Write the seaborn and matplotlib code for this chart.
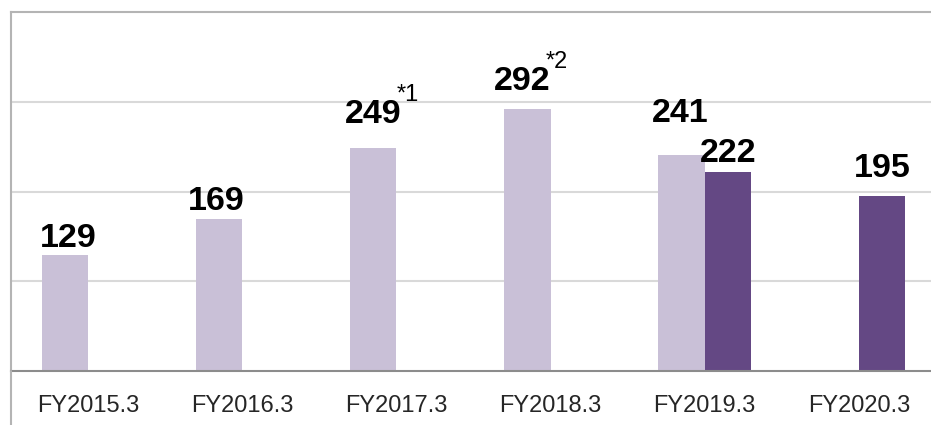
import numpy as np
import pandas as pd
import matplotlib
matplotlib.use("Agg")
import matplotlib.pyplot as plt
from matplotlib.lines import Line2D
import seaborn as sns

# datos del grafico
years = ["FY2015.3", "FY2016.3", "FY2017.3", "FY2018.3", "FY2019.3", "FY2020.3"]
old_basis = [129, 169, 249, 292, 241, np.nan]
new_basis = [np.nan, np.nan, np.nan, np.nan, 222, 195]
old_notes = ["", "", "*1", "*2", "", ""]
new_notes = ["", "", "", "", "", ""]

series = ["old", "new"]
colors = {"old": "#C9C0D7", "new": "#644884"}

# desplazamiento de las etiquetas (pixeles sobre la barra)
old_lift = [8, 9, 25, 19, 33, 0]
new_lift = [0, 0, 0, 0, 10, 19]
old_shift = [3, -3, 0, -5, -1, 0]
new_shift = [0, 0, 0, 0, 0, 0]

df = pd.DataFrame({
    "year": years * 2,
    "value": old_basis + new_basis,
    "serie": ["old"] * len(years) + ["new"] * len(years),
})

sns.set_style("white")
plt.rcParams["font.family"] = ["Liberation Sans", "DejaVu Sans"]

fig = plt.figure(figsize=(9.31, 4.25), dpi=100)
ax = fig.add_axes([11 / 931, 54 / 425, 925 / 931, 359 / 425])

sns.barplot(data=df, x="year", y="value", hue="serie", order=years,
            hue_order=series, palette=colors, width=0.6, dodge=True,
            saturation=1, legend=False, linewidth=0, ax=ax)

ax.set_xlim(-0.5, len(years) - 0.5)
ax.set_ylim(0, 400)
ax.set_yticks([100, 200, 300])
ax.set_yticklabels([])
ax.tick_params(axis="y", length=0)
ax.yaxis.grid(True, color="#D9D9D9", linewidth=1.5)
ax.set_axisbelow(True)
ax.set_xlabel("")
ax.set_ylabel("")

# ticks en los limites de categoria, etiquetas en el centro
ax.set_xticks(np.arange(len(years) - 1) + 0.5)
ax.set_xticklabels([])
ax.tick_params(axis="x", which="major", length=6, width=1.2, color="#8C8C8C",
               direction="out")
ax.set_xticks(np.arange(len(years)), minor=True)
ax.set_xticklabels(years, minor=True, fontsize=17)
ax.tick_params(axis="x", which="minor", length=0, pad=17)

for s in ["top", "left"]:
    ax.spines[s].set_color("#B4B4B4")
    ax.spines[s].set_linewidth(1.5)
ax.spines["right"].set_visible(False)
ax.spines["bottom"].set_color("#8C8C8C")
ax.spines["bottom"].set_linewidth(1.5)

fig.add_artist(Line2D([11 / 931, 11 / 931], [0, 54 / 425], color="#B4B4B4",
                      linewidth=1.5, transform=fig.transFigure))

vals = {"old": old_basis, "new": new_basis}
notes = {"old": old_notes, "new": new_notes}
lifts = {"old": old_lift, "new": new_lift}
shifts = {"old": old_shift, "new": new_shift}

for serie, cont in zip(series, ax.containers):
    for bar in cont:
        xc = bar.get_x() + bar.get_width() / 2
        i = int(round(xc))
        v = vals[serie][i]
        if np.isnan(v):
            continue
        dx = shifts[serie][i]
        dy = lifts[serie][i]
        ax.annotate(f"{v:.0f}", (xc, v), xytext=(dx, dy),
                    textcoords="offset pixels", ha="center", va="baseline",
                    fontsize=24.5, fontweight="bold", color="black")
        if notes[serie][i]:
            ax.annotate(notes[serie][i], (xc, v), xytext=(dx + 23, dy + 22),
                        textcoords="offset pixels", ha="left", va="baseline",
                        fontsize=17, color="black")

fig.savefig("out.png", dpi=100)
